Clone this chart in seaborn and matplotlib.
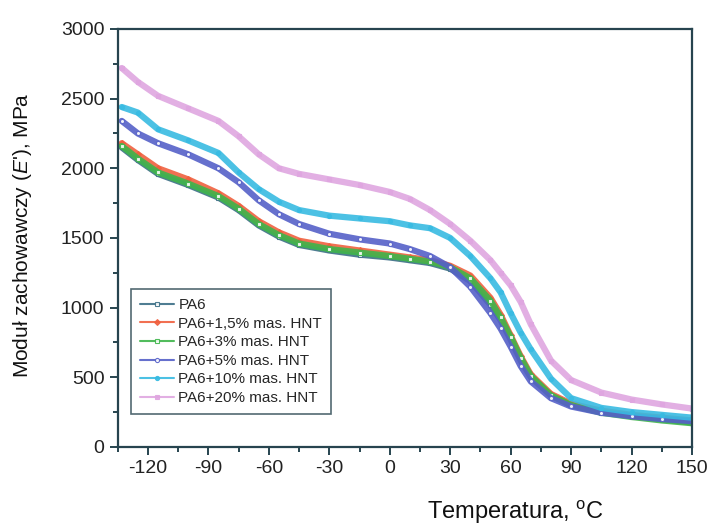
import pandas as pd
import matplotlib
matplotlib.use("Agg")
import matplotlib.pyplot as plt
import seaborn as sns
from matplotlib.ticker import MultipleLocator

# temperatury (°C)
temp = [-133, -125, -115, -100, -85, -75, -65, -55, -45, -30, -15, 0, 10, 20,
        30, 40, 50, 55, 60, 65, 70, 80, 90, 105, 120, 135, 150]

# moduł zachowawczy E' (MPa)
pa6 = [2150, 2060, 1960, 1880, 1790, 1700, 1590, 1510, 1450, 1410, 1380, 1360, 1340, 1320,
       1280, 1190, 1020, 910, 770, 620, 500, 370, 300, 250, 225, 200, 175]
hnt_15 = [2180, 2100, 2000, 1920, 1820, 1730, 1620, 1540, 1480, 1440, 1410, 1380, 1360, 1340,
          1300, 1230, 1070, 950, 800, 650, 520, 380, 310, 260, 230, 210, 190]
hnt_3 = [2160, 2070, 1970, 1890, 1800, 1710, 1600, 1520, 1460, 1420, 1395, 1370, 1350, 1330,
         1290, 1210, 1050, 930, 790, 640, 510, 370, 300, 245, 215, 190, 170]
hnt_5 = [2340, 2250, 2180, 2100, 2000, 1900, 1770, 1670, 1600, 1530, 1490, 1460, 1420, 1370,
         1290, 1150, 960, 850, 720, 580, 470, 350, 290, 245, 220, 200, 185]
hnt_10 = [2440, 2400, 2280, 2200, 2110, 1970, 1850, 1760, 1700, 1660, 1640, 1620, 1590, 1570,
          1500, 1370, 1210, 1110, 960, 820, 700, 490, 350, 280, 250, 230, 210]
hnt_20 = [2720, 2620, 2520, 2430, 2340, 2230, 2100, 2000, 1960, 1920, 1880, 1830, 1780, 1700,
          1600, 1480, 1340, 1250, 1160, 1040, 880, 620, 480, 390, 340, 305, 275]

labels = ["PA6", "PA6+1,5% mas. HNT", "PA6+3% mas. HNT",
          "PA6+5% mas. HNT", "PA6+10% mas. HNT", "PA6+20% mas. HNT"]
series = [pa6, hnt_15, hnt_3, hnt_5, hnt_10, hnt_20]
colors = ["#3c6f86", "#f0603f", "#3fb54b", "#5560c8", "#38bbe2", "#dfa6e0"]
markers = ["s", "D", "s", "o", "o", "s"]
filled = [False, True, False, False, True, True]

sns.set_style("ticks")
plt.rcParams["font.family"] = ["Liberation Sans", "DejaVu Sans"]
plt.rcParams["axes.unicode_minus"] = False
plt.rcParams["mathtext.fontset"] = "custom"
plt.rcParams["mathtext.it"] = "Liberation Sans:italic"
plt.rcParams["mathtext.rm"] = "Liberation Sans"

fig = plt.figure(figsize=(7.09, 5.27), dpi=100)
ax = fig.add_axes([0.166, 0.152, 0.810, 0.793])

for lab, vals, col, mk, fl in zip(labels, series, colors, markers, filled):
    df = pd.DataFrame({"T": temp, "E": vals})
    sns.lineplot(data=df, x="T", y="E", ax=ax, color=col, lw=4.5, alpha=0.9,
                 marker=mk, markersize=3,
                 markerfacecolor=col if fl else "white",
                 markeredgecolor=col, markeredgewidth=0.8, label=lab)

ax.set_xlim(-135, 150)
ax.set_ylim(0, 3000)
ax.xaxis.set_minor_locator(MultipleLocator(15))
ax.yaxis.set_major_locator(MultipleLocator(500))
ax.yaxis.set_minor_locator(MultipleLocator(250))
ax.set_xticks([-120, -90, -60, -30, 0, 30, 60, 90, 120, 150])

spine_col = "#27444f"
for s in ax.spines.values():
    s.set_color(spine_col)
    s.set_linewidth(1.6)
ax.tick_params(which="both", direction="out", color=spine_col, width=1.4,
               labelsize=14, labelcolor="#222222", top=False, right=False)
ax.tick_params(which="major", length=6)
ax.tick_params(which="minor", length=3.5)

ax.set_xlabel(r"Temperatura, $^{\mathrm{o}}$C", fontsize=17, color="#111111")
ax.xaxis.set_label_coords(0.693, -0.125)
ax.set_ylabel(r"Moduł zachowawczy ($E$'), MPa", fontsize=15, color="#111111")
ax.yaxis.set_label_coords(-0.145, 0.507)

leg = ax.legend(loc="lower left", bbox_to_anchor=(0.01, 0.06), fontsize=11,
                frameon=True, fancybox=False, handlelength=2.2, handletextpad=0.3,
                labelspacing=0.3, borderpad=0.6)
leg.get_frame().set_edgecolor(spine_col)
leg.get_frame().set_linewidth(1.2)
for h in leg.get_lines():
    h.set_linewidth(1.5)

fig.savefig("out.png", dpi=100)
